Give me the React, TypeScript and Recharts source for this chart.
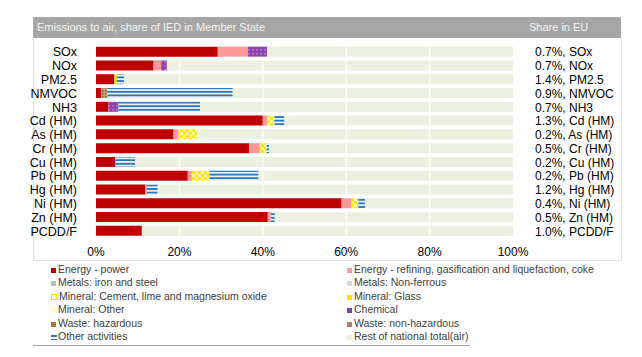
import React from 'react'
import { BarChart, Bar, XAxis, YAxis } from 'recharts'

const categories = ['SOx', 'NOx', 'PM2.5', 'NMVOC', 'NH3', 'Cd (HM)', 'As (HM)', 'Cr (HM)', 'Cu (HM)', 'Pb (HM)', 'Hg (HM)', 'Ni (HM)', 'Zn (HM)', 'PCDD/F']
const shareLabels = ['0.7%, SOx', '0.7%, NOx', '1.4%, PM2.5', '0.9%, NMVOC', '0.7%, NH3', '1.3%, Cd (HM)', '0.2%, As (HM)', '0.5%, Cr (HM)', '0.2%, Cu (HM)', '0.2%, Pb (HM)', '1.2%, Hg (HM)', '0.4%, Ni (HM)', '0.5%, Zn (HM)', '1.0%, PCDD/F']

const energyPower = [29.2, 13.8, 4.4, 1.3, 3.0, 40.0, 18.6, 36.7, 4.6, 22.0, 11.8, 58.9, 41.2, 11.0]
const energyRefining = [7.2, 1.8, 0, 0, 0, 1.0, 1.2, 2.6, 0, 1.0, 0.4, 2.4, 0.7, 0]
const metalsIron = [0, 0, 0, 0, 0, 0, 0, 0, 0, 0, 0, 0, 0, 0]
const metalsNonFerrous = [0, 0, 0, 0, 0, 0, 0, 0, 0, 0, 0, 0, 0, 0]
const mineralCement = [0, 0, 0, 0, 0, 1.8, 4.4, 1.6, 0, 4.2, 0, 1.6, 0, 0]
const mineralGlass = [0, 0, 0.6, 0, 0, 0, 0, 0, 0, 0, 0, 0, 0, 0]
const mineralOther = [0, 0, 0, 0, 0, 0, 0, 0, 0, 0, 0, 0, 0, 0]
const chemical = [4.6, 1.4, 0, 0, 2.4, 0, 0, 0, 0, 0, 0, 0, 0, 0]
const wasteHazardous = [0, 0, 0, 0, 0, 0, 0, 0, 0, 0, 0, 0, 0, 0]
const wasteNonHazardous = [0, 0, 0, 1.5, 0, 0, 0, 0, 0, 0, 0, 0, 0, 0]
const otherActivities = [0, 0, 1.8, 30.0, 19.6, 2.4, 0, 0.6, 4.8, 11.8, 2.6, 1.6, 1.0, 0]
const restOfNational = [59.0, 83.0, 93.2, 67.2, 75.0, 54.8, 75.8, 58.5, 90.6, 61.0, 85.2, 35.5, 57.1, 89.0]

const xTicks = [0, 20, 40, 60, 80, 100]

const series = [
  { key: 'energyPower', name: 'Energy - power', values: energyPower, fill: '#C00000', marker: '#C00000' },
  { key: 'energyRefining', name: 'Energy - refining, gasification and liquefaction, coke', values: energyRefining, fill: '#FF9999', marker: '#FF9999' },
  { key: 'metalsIron', name: 'Metals: iron and steel', values: metalsIron, fill: '#BFBFBF', marker: '#BFBFBF' },
  { key: 'metalsNonFerrous', name: 'Metals: Non-ferrous', values: metalsNonFerrous, fill: '#D9D9D9', marker: '#D9D9D9' },
  { key: 'mineralCement', name: 'Mineral: Cement, lime and magnesium oxide', values: mineralCement, fill: 'url(#pCement)', marker: 'cement' },
  { key: 'mineralGlass', name: 'Mineral: Glass', values: mineralGlass, fill: '#FFE000', marker: '#FFE000' },
  { key: 'mineralOther', name: 'Mineral: Other', values: mineralOther, fill: '#FFFFCC', marker: '#FFFFD0' },
  { key: 'chemical', name: 'Chemical', values: chemical, fill: 'url(#pChem)', marker: '#8040A0' },
  { key: 'wasteHazardous', name: 'Waste: hazardous', values: wasteHazardous, fill: '#B07040', marker: '#B07040' },
  { key: 'wasteNonHazardous', name: 'Waste: non-hazardous', values: wasteNonHazardous, fill: 'url(#pWaste)', marker: '#B08060' },
  { key: 'otherActivities', name: 'Other activities', values: otherActivities, fill: 'url(#pOther)', marker: 'other' },
  { key: 'rest', name: 'Rest of national total(air)', values: restOfNational, fill: '#EBF1DE', marker: '#EBF1DE' },
]

const data = categories.map((name, i) => {
  const row: any = { name, share: shareLabels[i] }
  series.forEach((s) => { row[s.key] = s.values[i] })
  return row
})

const font = '"Liberation Sans", Arial, sans-serif'

// rest bar: green with white gridlines cut through it
const RestShape = (props: any) => {
  const { x, y, width, height, payload } = props
  const rest = payload.rest
  const start = 100 - rest
  const pxPer = width / rest
  return (
    <g>
      <rect x={x} y={y} width={width} height={height} fill="#EBF1DE" />
      {[20, 40, 60, 80].filter((v) => v > start).map((v) => (
        <rect key={v} x={x + (v - start) * pxPer - 0.5} y={y} width={1.2} height={height} fill="#ffffff" />
      ))}
    </g>
  )
}

const LeftTick = ({ x, y, payload }: any) => (
  <text x={x - 11} y={y} dy={4.5} textAnchor="end" fontSize={12.5} fill="#000" fontFamily={font}>
    {payload.value}
  </text>
)

const RightTick = ({ x, y, payload, index }: any) => (
  <text x={x + 14} y={y} dy={4.5} textAnchor="start" fontSize={12} fill="#000" fontFamily={font}>
    {shareLabels[index] ?? payload.value}
  </text>
)

const BottomTick = ({ x, y, payload }: any) => (
  <text x={x} y={y} dy={10} textAnchor="middle" fontSize={12} fill="#000" fontFamily={font}>
    {payload.value}%
  </text>
)

const Marker = ({ kind }: { kind: string }) => {
  if (kind === 'cement') {
    return <span style={{ display: 'inline-block', width: 4, height: 4, border: '1px solid #FFD800', background: '#FFFFE0', marginRight: 2 }} />
  }
  if (kind === 'other') {
    return (
      <span style={{ display: 'inline-block', width: 6, height: 5, marginRight: 1, background: 'linear-gradient(#2E75B6 0 1.5px, transparent 1.5px 3.5px, #2E75B6 3.5px 5px)' }} />
    )
  }
  return <span style={{ display: 'inline-block', width: 5, height: 5, background: kind, marginRight: 2 }} />
}

export default function App() {
  const leftItems = series.filter((_, i) => i % 2 === 0)
  const rightItems = series.filter((_, i) => i % 2 === 1)
  return (
    <div style={{ position: 'absolute', left: 0, top: 0, width: 642, height: 357, background: '#fff', fontFamily: font }}>
      <svg width={0} height={0} style={{ position: 'absolute' }}>
        <defs>
          <pattern id="pCement" width={6} height={6} patternUnits="userSpaceOnUse">
            <rect width={6} height={6} fill="#FFE600" />
            <rect x={0} y={0} width={3} height={3} fill="#FFF6A0" />
            <rect x={3} y={3} width={3} height={3} fill="#FFF6A0" />
          </pattern>
          <pattern id="pChem" width={4} height={4} patternUnits="userSpaceOnUse">
            <rect width={4} height={4} fill="#8E44AD" />
            <rect x={0} y={1} width={2} height={1.5} fill="#B07ACC" />
          </pattern>
          <pattern id="pWaste" width={3} height={3} patternUnits="userSpaceOnUse">
            <rect width={3} height={3} fill="#C8A070" />
            <rect width={1.5} height={1.5} fill="#8C6040" />
          </pattern>
          <pattern id="pOther" width={4} height={3.6} patternUnits="userSpaceOnUse">
            <rect width={4} height={3.6} fill="#ffffff" />
            <rect y={0.8} width={4} height={2} fill="#2E75B6" />
          </pattern>
        </defs>
      </svg>

      {/* header band */}
      <div style={{ position: 'absolute', left: 33, top: 17, width: 588, height: 21, background: '#A6A6A6' }} />
      <div style={{ position: 'absolute', left: 37, top: 21, fontSize: 11, color: '#F4F4F4' }}>
        Emissions to air, share of IED in Member State
      </div>
      <div style={{ position: 'absolute', left: 529, top: 21, fontSize: 11, color: '#F4F4F4' }}>Share in EU</div>
      {/* plot frame */}
      <div style={{ position: 'absolute', left: 33, top: 38, width: 587, height: 222, borderLeft: '1px solid #E0E0E0', borderRight: '1px solid #E0E0E0', borderBottom: '1px solid #E0E0E0' }} />

      <div style={{ position: 'absolute', left: 0, top: 0 }}>
        <BarChart
          width={642}
          height={357}
          data={data}
          layout="vertical"
          margin={{ top: 45, right: 0, bottom: 99, left: 0 }}
          barCategoryGap="12%"
        >
          <XAxis
            type="number"
            domain={[0, 100]}
            ticks={xTicks}
            axisLine={false}
            tickLine={false}
            height={20}
            tick={<BottomTick />}
            interval={0}
          />
          <YAxis
            yAxisId="left"
            type="category"
            dataKey="name"
            width={96}
            axisLine={false}
            tickLine={false}
            tick={<LeftTick />}
            interval={0}
          />
          <YAxis
            yAxisId="right"
            orientation="right"
            type="category"
            dataKey="name"
            width={129}
            axisLine={false}
            tickLine={false}
            tick={<RightTick />}
            interval={0}
          />
          {series.map((s) => (
            <Bar
              key={s.key}
              dataKey={s.key}
              yAxisId="left"
              stackId="a"
              fill={s.fill}
              isAnimationActive={false}
              shape={s.key === 'rest' ? <RestShape /> : undefined}
            />
          ))}
        </BarChart>
      </div>

      {/* legend */}
      <div style={{ position: 'absolute', left: 51, top: 263, fontSize: 10.5, color: '#404040', lineHeight: '13.4px' }}>
        {leftItems.map((s) => (
          <div key={s.key} style={{ whiteSpace: 'nowrap' }}>
            <Marker kind={s.marker} />
            {s.name}
          </div>
        ))}
      </div>
      <div style={{ position: 'absolute', left: 347, top: 263, fontSize: 10.5, color: '#404040', lineHeight: '13.4px' }}>
        {rightItems.map((s) => (
          <div key={s.key} style={{ whiteSpace: 'nowrap' }}>
            <Marker kind={s.marker} />
            {s.name}
          </div>
        ))}
      </div>
      <div style={{ position: 'absolute', left: 33, top: 345, width: 437, height: 1, background: '#A0A0A0' }} />
    </div>
  )
}
